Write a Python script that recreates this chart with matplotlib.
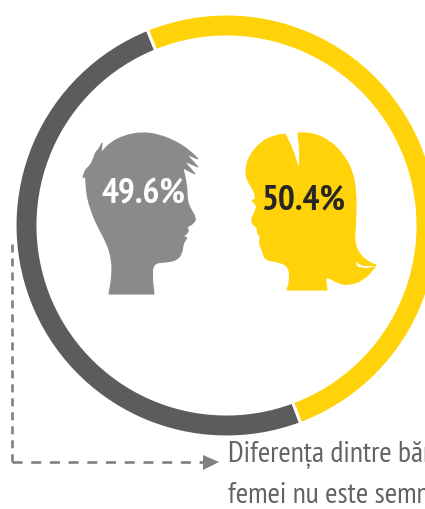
import matplotlib
matplotlib.use("Agg")
import matplotlib.pyplot as plt
from matplotlib.patches import Polygon
from matplotlib.path import Path
from matplotlib.patches import PathPatch

W, H = 425, 509

# Values
categories = ["Bărbați", "Femei"]
shares = [49.6, 50.4]
share_labels = ["49.6%", "50.4%"]
note_lines = ["Diferența dintre bărbați și", "femei nu este semnificativă"]

# Colours
c_ring = ["#5c5c5c", "#ffd20a"]
c_male = "#8a8a8a"
c_dash = "#808080"
c_note = "#636363"
c_dark = "#262626"

# Head outlines (pixels)
# A repeated point keeps that corner sharp
male_head = [(109, 294), (109, 294), (112, 277), (112, 260), (107, 243), (98, 227), (90, 208),
             (86, 190), (86, 175), (83, 178), (83, 178), (85, 170), (91, 165), (94, 157),
             (96, 152), (99, 149), (102, 143), (102, 143), (101, 153), (101, 153), (110, 143),
             (123, 136), (142, 132), (160, 135), (177, 142), (190, 151), (198, 159), (198, 159),
             (186, 154), (186, 154), (198, 167), (198, 167), (184, 161), (184, 161), (195, 174),
             (195, 174), (183, 168), (183, 168), (187, 187), (187, 200), (190, 208),
             (196, 218), (194, 223), (187, 227), (187, 227), (189, 232), (182, 237), (182, 237),
             (188, 237), (183, 243), (182, 253), (177, 260), (167, 262), (153, 263), (152, 277),
             (154, 294), (154, 294)]
female_head = [(287, 290), (287, 290), (290, 280), (289, 267), (280, 262), (265, 260), (263, 252),
               (259, 243), (261, 237), (257, 233), (258, 228), (250, 222), (257, 208),
               (256, 205), (252, 200), (252, 200), (256, 200), (254, 190), (248, 182), (245, 172),
               (249, 156), (261, 142), (273, 136), (285, 134), (285, 134), (293, 150), (299, 170),
               (299, 170), (300, 153), (298, 133), (298, 133), (313, 133), (330, 141), (343, 154),
               (352, 170), (356, 190), (356, 220), (354, 240), (358, 253), (368, 262), (376, 265),
               (376, 265), (373, 270), (363, 280), (350, 285), (337, 283), (325, 275), (327, 290),
               (327, 290)]
female_gap = [(355, 262), (363, 266), (376, 266), (367, 268), (358, 267)]
arrow_head = [(203, 455), (203, 470), (219, 462)]
dash_v_x = [12, 12]
dash_v_y = [243.5, 462]
dash_h_x = [12, 203]
dash_h_y = [462, 462]


def smooth_patch(points, color):
    """Closed outline with rounded corners (quadratic through edge midpoints)"""
    verts, codes = [], []
    n = len(points)
    for i in range(n):
        x0, y0 = points[i]
        x1, y1 = points[(i + 1) % n]
        mid = ((x0 + x1) / 2, (y0 + y1) / 2)
        if i == 0:
            verts.append(mid)
            codes.append(Path.MOVETO)
        else:
            verts += [points[i], mid]
            codes += [Path.CURVE3, Path.CURVE3]
    verts += [points[0], verts[0], verts[0]]
    codes += [Path.CURVE3, Path.CURVE3, Path.CLOSEPOLY]
    return PathPatch(Path(verts, codes), fc=color, ec=color, lw=0.8)


fig = plt.figure(figsize=(W / 100, H / 100), dpi=100)

# Ring: centre (226.5, 225.5)
cx, cy, r = 226.5, 225.5, 211.5
ax_ring = fig.add_axes([(cx - r) / W, 1 - (cy + r) / H, 2 * r / W, 2 * r / H])
ax_ring.pie(shares, startangle=112, counterclock=True, colors=c_ring, radius=1,
            wedgeprops=dict(width=23 / r, edgecolor="white", linewidth=2.2))
ax_ring.set_xlim(-1, 1)
ax_ring.set_ylim(-1, 1)
ax_ring.set_aspect("equal")
ax_ring.axis("off")

# Everything else sits on a pixel canvas
ax = fig.add_axes([0, 0, 1, 1])
ax.set_xlim(0, W)
ax.set_ylim(H, 0)
ax.axis("off")
ax.patch.set_alpha(0)

ax.add_patch(smooth_patch(male_head, c_male))
ax.add_patch(smooth_patch(female_head, c_ring[1]))
ax.add_patch(Polygon(female_gap, closed=True, fc="white", ec="none"))

# Dash pattern differs between the two legs of the connector
ax.plot(dash_v_x, dash_v_y, color=c_dash, lw=1.9, dashes=(3.03, 2.27))
ax.plot(dash_h_x, dash_h_y, color=c_dash, lw=1.9, dashes=(3.79, 3.3))
ax.add_patch(Polygon(arrow_head, closed=True, fc=c_dash, ec="none"))

font = ["PT Sans Narrow", "DejaVu Sans"]
ax.text(143, 194, share_labels[0], color="white", fontsize=25.5, fontweight="bold",
        family=font, ha="center", va="center")
ax.text(303, 200, share_labels[1], color=c_dark, fontsize=25.5, fontweight="bold",
        family=font, ha="center", va="center")
ax.text(228, 462, note_lines[0], color=c_note, fontsize=21.5, family=font, va="baseline")
ax.text(228, 503, note_lines[1], color=c_note, fontsize=21.5, family=font, va="baseline")

fig.savefig("out.png", dpi=100, facecolor="white")
